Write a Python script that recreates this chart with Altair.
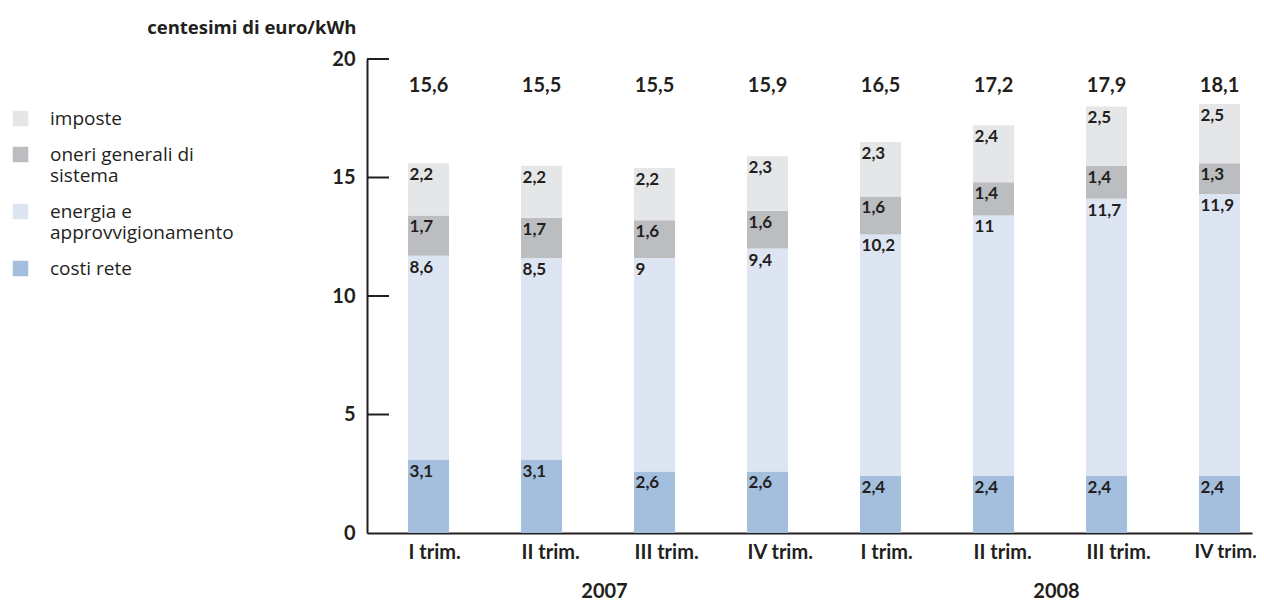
import altair as alt
import pandas as pd

# ---- data ----
years = ["2007", "2007", "2007", "2007", "2008", "2008", "2008", "2008"]
quarters = ["I trim.", "II trim.", "III trim.", "IV trim.", "I trim.", "II trim.", "III trim.", "IV trim."]
costi_rete = [3.1, 3.1, 2.6, 2.6, 2.4, 2.4, 2.4, 2.4]
energia = [8.6, 8.5, 9.0, 9.4, 10.2, 11.0, 11.7, 11.9]
oneri = [1.7, 1.7, 1.6, 1.6, 1.6, 1.4, 1.4, 1.3]
imposte = [2.2, 2.2, 2.2, 2.3, 2.3, 2.4, 2.5, 2.5]
totali = [15.6, 15.5, 15.5, 15.9, 16.5, 17.2, 17.9, 18.1]

series = ["imposte", "oneri generali di sistema", "energia e approvvigionamento", "costi rete"]
colors = ["#e5e6e8", "#bcbdc1", "#dee5f2", "#a4bedd"]
y_ticks = [5, 10, 15, 20]
y_labels = [0, 5, 10, 15, 20]
y_title = "centesimi di euro/kWh"
year_labels = ["2007", "2008"]

INK = "#231f20"
FONT = "Lato"


def it(v):
    return f"{v:g}".replace(".", ",")


keys = [f"{y}|{q}" for y, q in zip(years, quarters)]
last_key = keys[-1]

values_by_series = {
    "costi rete": costi_rete,
    "energia e approvvigionamento": energia,
    "oneri generali di sistema": oneri,
    "imposte": imposte,
}
stack_order = ["costi rete", "energia e approvvigionamento", "oneri generali di sistema", "imposte"]

rows = []
for i, k in enumerate(keys):
    for o, s in enumerate(stack_order):
        v = values_by_series[s][i]
        rows.append({"key": k, "serie": s, "value": v, "order": o, "label": it(v)})
df = pd.DataFrame(rows)

df_tot = pd.DataFrame({"key": keys, "total": totali, "label": [it(t) for t in totali]})
df_ticks = pd.DataFrame({"key": [keys[0]] * len(y_ticks), "tick": y_ticks})
df_years = pd.DataFrame({"year": year_labels, "key": ["2007|II trim.", "2008|II trim."]})

x_scale = alt.Scale(domain=keys, paddingInner=0.637, paddingOuter=0.2345, align=0.774)
y_scale = alt.Scale(domain=[0, 20], nice=False, zero=True)

last_test = f"datum.value == '{last_key}'"
x_axis = alt.Axis(
    labelExpr="split(datum.label, '|')[1]",
    ticks=False, grid=False, domainColor=INK, domainWidth=2,
    labelFont=FONT, labelFontWeight="bold", labelColor=INK,
    labelFontSize={"condition": {"test": last_test, "value": 19}, "value": 20},
    labelOffset={"condition": {"test": last_test, "value": -25}, "value": -20},
    labelAlign="left", labelPadding=9, labelBaseline="top",
    labelAngle=0, title=None,
)
y_axis = alt.Axis(
    values=y_labels, ticks=False, grid=False, domainColor=INK, domainWidth=2,
    labelFont=FONT, labelFontSize=20, labelFontWeight="bold", labelColor=INK,
    labelPadding=12, labelFlush=False, labelOverlap=False,
    title=y_title, titleAngle=0, titleX=-11, titleY=-32, titleAlign="right",
    titleBaseline="middle", titleFont="Open Sans", titleFontSize=18.5, titleFontWeight="bold",
    titleColor=INK,
)

X = alt.X("key:N", scale=x_scale, axis=x_axis, title=None)

stack_tf = dict(stack="value", as_=["y0", "y1"], groupby=["key"],
                sort=[alt.SortField("order", order="ascending")])

bars = alt.Chart(df).transform_stack(**stack_tf).mark_bar(stroke=None).encode(
    x=X,
    y=alt.Y("y0:Q", scale=y_scale, axis=y_axis, title=y_title),
    y2="y1:Q",
    color=alt.Color(
        "serie:N",
        scale=alt.Scale(domain=series, range=colors),
        legend=alt.Legend(
            orient="none", legendX=-356, legendY=50, title=None,
            symbolType="square", symbolSize=240, symbolStrokeWidth=0,
            symbolOpacity=1,
            labelFont="Open Sans", labelFontSize=19, labelColor=INK,
            labelOffset=20, rowPadding=16, labelLimit=400,
            labelExpr=("datum.label == 'oneri generali di sistema' ? ['oneri generali di', 'sistema'] : "
                       "datum.label == 'energia e approvvigionamento' ? ['energia e', 'approvvigionamento'] : "
                       "datum.label"),
        ),
    ),
)

ticks = alt.Chart(df_ticks).mark_rule(color=INK, strokeWidth=2).encode(
    y=alt.Y("tick:Q", scale=y_scale, axis=y_axis, title=y_title),
    x=alt.value(0),
    x2=alt.value(22),
)

seg_labels = alt.Chart(df).transform_stack(**stack_tf).mark_text(
    align="left", baseline="top", dx=-19, dy=4,
    font=FONT, fontSize=17, fontWeight="bold", color=INK,
).encode(
    x=X,
    y=alt.Y("y1:Q", scale=y_scale, axis=y_axis, title=y_title),
    text="label:N",
)

tot_labels = alt.Chart(df_tot).mark_text(
    align="center", baseline="middle",
    font=FONT, fontSize=20, fontWeight="bold", color=INK,
).encode(
    x=X,
    y=alt.datum(18.85, scale=y_scale, axis=y_axis, title=y_title),
    text="label:N",
)

year_text = alt.Chart(df_years).mark_text(
    align="center", baseline="middle", dx=63,
    font=FONT, fontSize=20, fontWeight="bold", color=INK,
).encode(
    x=X,
    y=alt.datum(-2.5, scale=y_scale, axis=y_axis, title=y_title),
    text="year:N",
)

chart = alt.layer(bars, ticks, seg_labels, tot_labels, year_text).properties(
    width=885, height=474,
    autosize=alt.AutoSizeParams(type="none"),
    padding={"left": 359, "top": 51, "right": 4, "bottom": 75},
    background="white",
).configure_view(stroke=None)

chart.save("out.html", embed_options={"renderer": "svg", "actions": False})
